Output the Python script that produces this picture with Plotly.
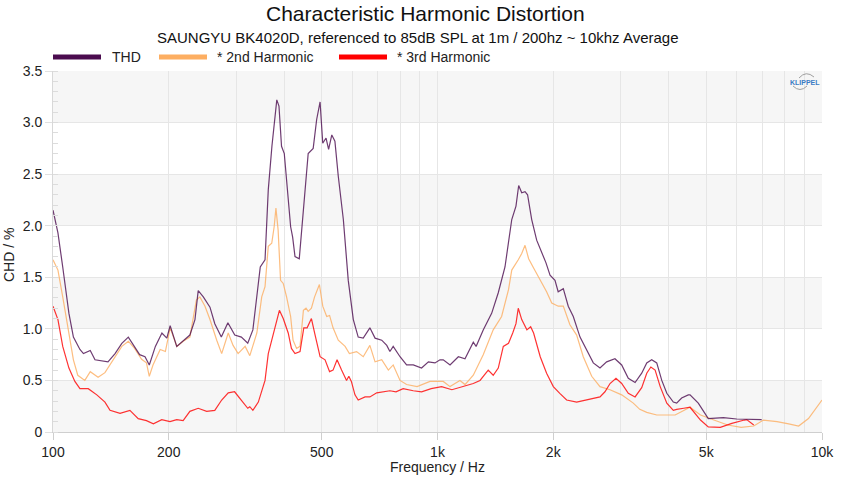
import plotly.graph_objects as go

# --- data (frequency in Hz, distortion in %) ---
thd_freq = [100, 103, 106, 110, 113, 117.5, 120, 125, 128.6, 134, 139, 145, 151, 157, 162, 168,
            173.5, 178, 184.6, 192, 197.7, 201.7, 209.8, 218, 227, 234, 238.6, 246, 256, 263.5,
            274, 285, 297, 309, 321, 331, 335, 342, 346, 356, 363, 371, 378, 382, 387, 393,
            399.5, 406.8, 415, 420, 426, 437, 448, 461, 475, 485, 495, 503, 513, 521, 531, 541,
            552, 569, 586, 604, 622, 641, 667, 688, 716, 738, 752, 767, 799, 831, 865, 909, 947,
            985, 1015, 1035, 1078, 1133, 1179, 1239, 1260, 1315, 1383, 1439, 1498, 1560, 1600,
            1626, 1656, 1689, 1715, 1758, 1811, 1884, 1915, 1962, 2021, 2060, 2124, 2188, 2255,
            2348, 2443, 2542, 2646, 2754, 2894, 3013, 3135, 3265, 3397, 3501, 3607, 3717, 3831,
            3948, 4105, 4188, 4315, 4489, 4537, 4767, 5061, 5538, 5999, 6370, 6968]
thd_val = [2.15, 1.93, 1.60, 1.15, 0.92, 0.80, 0.76, 0.79, 0.70, 0.69, 0.68, 0.76, 0.86, 0.92, 0.84, 0.75,
           0.73, 0.65, 0.83, 0.96, 0.91, 1.03, 0.83, 0.88, 0.94, 1.09, 1.37, 1.31, 1.21, 1.05,
           0.92, 1.06, 0.94, 0.92, 0.86, 0.99, 1.15, 1.47, 1.60, 1.67, 2.35, 2.77, 3.09, 3.22, 3.16, 2.77,
           2.70, 2.35, 1.99, 1.89, 1.70, 1.68, 2.15, 2.70, 2.75, 3.03, 3.20, 2.80, 2.85, 2.74, 2.88, 2.82,
           2.48, 2.06, 1.47, 1.09, 0.92, 0.91, 1.01, 0.91, 0.89, 0.84, 0.78, 0.83, 0.73, 0.65, 0.65, 0.62, 0.68,
           0.67, 0.70, 0.70, 0.65, 0.73, 0.71, 0.87, 0.83, 0.99, 1.15, 1.35, 1.60, 2.06, 2.19,
           2.39, 2.32, 2.33, 2.30, 2.06, 1.86, 1.70, 1.64, 1.52, 1.47, 1.36, 1.39, 1.22, 1.12,
           0.92, 0.80, 0.67, 0.62, 0.68, 0.71, 0.65, 0.52, 0.48, 0.57, 0.67, 0.70, 0.67, 0.50,
           0.375, 0.29, 0.28, 0.33, 0.36, 0.36, 0.28, 0.13, 0.14, 0.126, 0.126, 0.12]

h2_freq = [100, 103, 106, 110, 113, 116, 121, 125, 131, 136.5, 143.5, 151, 157, 163, 170, 175, 178,
           182, 190, 196, 201.7, 210, 218, 227, 236, 241, 248.5, 256, 266.6, 274.6, 285.6, 294, 303,
           316, 325, 339, 349, 356, 363, 370.6, 376, 380, 385, 390.7, 397, 405, 415, 421, 430, 439,
           448, 455, 461, 470, 479, 493, 503, 515, 524, 535, 552, 575, 590, 616, 641, 667, 688, 716,
           745, 767, 799, 831, 885, 956, 1035, 1078, 1144, 1179, 1239, 1315, 1396, 1468, 1530, 1560,
           1622, 1656, 1689, 1726, 1778, 1850, 1922, 1982, 2061, 2124, 2210, 2301, 2394, 2518, 2646,
           2810, 3013, 3230, 3358, 3501, 3717, 3795, 4150, 4537, 4830, 5234, 5685, 6162, 6645, 7044,
           7638, 8190, 8694, 9222, 9703, 10000]
h2_val = [1.67, 1.57, 1.31, 0.96, 0.70, 0.55, 0.50, 0.585, 0.53, 0.575, 0.70, 0.83, 0.88, 0.81, 0.705, 0.67, 0.54,
          0.65, 0.80, 0.78, 1.01, 0.83, 0.88, 0.92, 1.28, 1.31, 1.22, 1.09, 0.89, 0.76, 0.96, 0.84, 0.76,
          0.83, 0.74, 0.96, 1.31, 1.41, 1.80, 1.83, 1.99, 2.17, 1.96, 1.47, 1.44, 1.31, 1.12, 0.89, 0.81, 0.83,
          1.18, 1.20, 1.17, 1.20, 1.31, 1.43, 1.22, 1.12, 1.13, 1.01, 0.89, 0.83, 0.76, 0.78, 0.73, 0.84, 0.68, 0.70,
          0.60, 0.65, 0.50, 0.46, 0.44, 0.49, 0.49, 0.44, 0.50, 0.46, 0.55, 0.75, 0.99, 1.12, 1.38, 1.57,
          1.67, 1.73, 1.81, 1.68, 1.59, 1.47, 1.36, 1.25, 1.22, 1.22, 1.04, 0.94, 0.73, 0.54, 0.44,
          0.41, 0.36, 0.28, 0.22, 0.19, 0.165, 0.165, 0.165, 0.24, 0.165, 0.116, 0.068, 0.045, 0.058, 0.116,
          0.10, 0.078, 0.058, 0.13, 0.245, 0.31]

h3_freq = [100, 103, 106, 110, 114, 117.5, 123.5, 130, 136.5, 140.7, 149.4, 158.5, 166.6, 175, 182.4,
           191.8, 201.5, 209.8, 218, 227, 238.6, 251, 263.5, 274.6, 285.6, 296.7, 308.7, 321, 325, 331,
           342, 349, 356, 363, 367, 378, 388, 397, 409, 417, 426, 439, 449, 458, 470, 479, 495, 510, 524,
           535, 548, 563, 580, 588, 597, 610, 622, 648, 667, 695, 724, 752, 780, 814, 865, 909, 963,
           1025, 1090, 1167, 1239, 1290, 1355, 1396, 1439, 1483, 1530, 1569, 1600, 1622, 1656, 1708,
           1747, 1778, 1850, 1922, 2001, 2080, 2167, 2301, 2443, 2594, 2646, 2726, 2810, 2912, 3013,
           3135, 3265, 3397, 3501, 3588, 3681, 3795, 3948, 4105, 4188, 4370, 4537, 4830, 5061, 5438,
           5828, 6283, 6370, 6645]
h3_val = [1.22, 1.09, 0.83, 0.62, 0.49, 0.42, 0.42, 0.36, 0.29, 0.21, 0.18, 0.21, 0.13, 0.11, 0.08,
          0.12, 0.10, 0.12, 0.11, 0.20, 0.23, 0.20, 0.21, 0.31, 0.38, 0.39, 0.31, 0.23, 0.245, 0.21,
          0.29, 0.41, 0.50, 0.76, 0.83, 1.02, 1.18, 1.10, 0.96, 0.81, 0.76, 0.78, 1.01, 1.01, 1.10, 0.96, 0.73, 0.70, 0.585,
          0.60, 0.70, 0.60, 0.50, 0.54, 0.49, 0.36, 0.31, 0.34, 0.34, 0.38, 0.39, 0.40, 0.39, 0.42, 0.40, 0.39, 0.42,
          0.44, 0.41, 0.44, 0.47, 0.50, 0.60, 0.55, 0.62, 0.83, 0.86, 0.96, 1.05, 1.20, 1.09, 0.99,
          1.02, 0.96, 0.73, 0.57, 0.44, 0.375, 0.31, 0.29, 0.31, 0.33, 0.34, 0.39, 0.47, 0.52, 0.47,
          0.375, 0.34, 0.43, 0.57, 0.63, 0.60, 0.44, 0.28, 0.21, 0.22, 0.23, 0.24, 0.116, 0.05, 0.045,
          0.084, 0.116, 0.12, 0.068]

series_names = ['THD', '* 2nd Harmonic', '* 3rd Harmonic']
series_colors = ['#4b0c4f', '#fdae61', '#ff0000']

y_ticks = [0, 0.5, 1.0, 1.5, 2.0, 2.5, 3.0, 3.5]
y_labels = ['0', '0.5', '1.0', '1.5', '2.0', '2.5', '3.0', '3.5']
x_ticks = [100, 200, 500, 1000, 2000, 5000, 10000]
x_labels = ['100', '200', '500', '1k', '2k', '5k', '10k']
x_minor = [100, 200, 300, 400, 500, 600, 700, 800, 900, 1000, 2000, 3000, 4000, 5000,
           6000, 7000, 8000, 9000, 10000]

# plot area in pixels (for placing text / logo)
L, R, T, B = 53, 822, 71, 432


def px(x):
    return (x - L) / (R - L)


def py(y):
    return (B - y) / (B - T)


FONT = 'Arial, Liberation Sans, sans-serif'

fig = go.Figure()

# draw in reverse so THD sits on top
for f, v, c in [(h2_freq, h2_val, series_colors[1]),
                (h3_freq, h3_val, series_colors[2]),
                (thd_freq, thd_val, series_colors[0])]:
    fig.add_trace(go.Scatter(x=f, y=v, mode='lines', line=dict(color=c, width=1.2),
                             opacity=0.8, showlegend=False, hoverinfo='skip'))

# alternating background bands
for y0 in [0, 1.0, 2.0, 3.0]:
    fig.add_shape(type='rect', xref='paper', yref='y', x0=0, x1=1, y0=y0, y1=y0 + 0.5,
                  fillcolor='#f6f6f6', line_width=0, layer='below')

# hand-drawn legend
legend_pos = [(53, 110), (159, 215), (339, 395)]
for (sx, tx), name, col in zip(legend_pos, series_names, series_colors):
    fig.add_shape(type='line', xref='paper', yref='paper', x0=px(sx), x1=px(sx + 48),
                  y0=py(57), y1=py(57), line=dict(color=col, width=5))
    fig.add_annotation(xref='paper', yref='paper', x=px(tx), y=py(57), text=name,
                       showarrow=False, xanchor='left', yanchor='middle',
                       font=dict(family=FONT, size=14, color='#222'))

# titles
fig.add_annotation(xref='paper', yref='paper', x=px(425), y=py(14),
                   text='Characteristic Harmonic Distortion', showarrow=False,
                   xanchor='center', yanchor='middle', font=dict(family=FONT, size=21, color='#111'))
fig.add_annotation(xref='paper', yref='paper', x=px(418), y=py(37),
                   text='SAUNGYU BK4020D, referenced to 85dB SPL at 1m / 200hz ~ 10khz Average',
                   showarrow=False, xanchor='center', yanchor='middle',
                   font=dict(family=FONT, size=15, color='#111'))
fig.add_annotation(xref='paper', yref='paper', x=px(437), y=py(467), text='Frequency / Hz',
                   showarrow=False, xanchor='center', yanchor='middle',
                   font=dict(family=FONT, size=14, color='#222'))
fig.add_annotation(xref='paper', yref='paper', x=px(9), y=py(255), text='CHD / %',
                   textangle=-90, showarrow=False, xanchor='center', yanchor='middle',
                   font=dict(family=FONT, size=14, color='#222'))

# Klippel logo
fig.add_annotation(xref='paper', yref='paper', x=px(805), y=py(82), text='<b>KLIPPEL</b>',
                   showarrow=False, xanchor='center', yanchor='middle',
                   font=dict(family=FONT, size=7, color='#3b7cc4'))
fig.add_shape(type='path', xref='paper', yref='paper', line=dict(color='#a0a0a0', width=1),
              path=f'M {px(799)},{py(78)} Q {px(806)},{py(70)} {px(814)},{py(77)}')
fig.add_shape(type='path', xref='paper', yref='paper', line=dict(color='#a0a0a0', width=1),
              path=f'M {px(793)},{py(86)} Q {px(800)},{py(93)} {px(807)},{py(86)}')

fig.update_xaxes(type='log', range=[2, 4], tickvals=x_ticks, ticktext=x_labels,
                 ticks='outside', ticklen=7, tickcolor='#cfcfcf', showgrid=False,
                 showline=True, linecolor='#cfcfcf', zeroline=False,
                 tickfont=dict(family=FONT, size=14, color='#222'),
                 minor=dict(tickvals=x_minor, showgrid=True, gridcolor='#e6e6e6', ticks=''))
fig.update_yaxes(range=[0, 3.5], tickvals=y_ticks, ticktext=y_labels,
                 ticks='outside', ticklen=7, tickcolor='#e0e0e0', showgrid=True,
                 gridcolor='#e6e6e6', showline=True, linecolor='#d8d8d8', zeroline=False,
                 tickfont=dict(family=FONT, size=14, color='#222'),
                 minor=dict(dtick=0.1, ticks='inside', ticklen=5, tickcolor='#dcdcdc', showgrid=False))

fig.update_layout(width=850, height=478, margin=dict(l=L, r=850 - R, t=T, b=478 - B),
                  plot_bgcolor='white', paper_bgcolor='white', showlegend=False)

# the page body has a default 8px margin; remove it so the figure fills the window
fig.write_html('out.html', config={'displayModeBar': False},
               post_script="document.body.style.margin='0';")
